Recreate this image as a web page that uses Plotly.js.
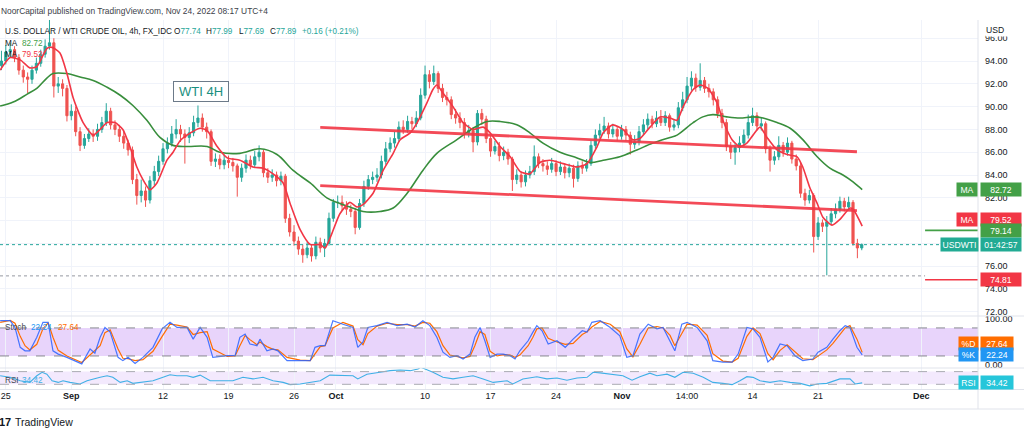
<!DOCTYPE html>
<html><head><meta charset="utf-8">
<script src="https://cdn.plot.ly/plotly-3.0.1.min.js"></script>
<style>html,body{margin:0;padding:0;background:#fff;overflow:hidden}#chart{width:1024px;height:435px}</style>
</head><body><div id="chart"></div>
<script>
// ---------------- DATA ----------------
// candles: index -1 .. 196, three candles per trading day
const firstCandleIndex = -1;
const firstOpen = 93.6;
const closes = [94.0,94.8,95.0,94.3,93.2,92.6,92.4,93.2,93.8,94.6,
95.3,95.6,91.8,92.0,91.6,89.2,89.6,87.8,86.6,87.2,
87.6,87.4,88.0,88.6,89.6,88.4,88.0,87.4,86.8,86.2,
83.6,82.2,82.6,81.8,83.5,84.3,85.2,86.3,86.8,87.6,
88.0,87.6,87.3,87.7,88.6,89.0,88.2,87.8,85.2,85.4,
84.9,85.3,85.1,84.8,83.8,84.6,85.3,84.9,85.6,86.0,
84.2,83.8,84.0,83.5,83.9,80.2,79.0,78.2,77.5,77.0,
77.6,76.9,78.1,77.6,78.0,80.2,81.6,81.6,81.3,81.0,
80.8,79.4,81.5,83.0,83.6,83.8,84.0,85.2,86.3,86.8,
87.2,88.2,88.0,88.7,88.5,89.0,91.0,92.8,92.2,92.9,
91.6,90.8,90.6,89.3,89.0,88.6,87.7,87.9,86.9,89.4,
88.9,87.2,86.1,86.5,85.7,86.0,85.4,83.6,84.0,83.4,
84.0,84.3,85.6,85.0,84.8,84.5,85.0,84.3,84.7,84.2,
84.6,83.7,84.8,84.6,85.0,86.6,87.5,87.9,88.3,87.6,
88.0,87.4,88.0,87.5,86.7,86.9,87.8,88.4,88.9,88.5,
89.0,88.6,89.2,88.2,88.4,89.9,90.6,91.8,92.5,91.7,
92.3,91.6,91.3,90.6,89.4,88.6,86.5,86.0,86.4,86.8,
87.5,88.6,89.2,88.3,88.5,86.3,85.3,85.6,86.6,86.0,
86.8,85.4,84.8,82.4,81.8,82.2,78.6,79.8,79.5,79.9,
80.6,81.0,81.7,81.2,81.6,78.0,77.6,77.89];
const highs = [94.9,95.4,95.6,95.3,94.6,93.6,93.0,93.6,94.3,95.0,
95.9,97.6,96.0,92.6,92.4,91.9,90.2,90.0,88.2,87.6,
88.1,88.0,88.5,89.1,90.3,89.9,88.8,88.4,87.9,87.1,
86.5,84.1,83.6,83.0,83.9,84.8,85.7,86.8,87.3,88.3,
88.9,88.4,88.0,88.2,89.2,90.1,89.4,88.6,88.0,85.9,
85.8,85.8,85.7,85.5,85.0,85.0,85.8,85.7,86.1,86.6,
86.2,84.6,84.5,84.3,84.3,84.1,80.6,79.6,78.6,77.9,
78.1,77.9,78.6,78.5,78.4,80.7,81.9,82.2,82.2,81.7,
81.4,81.1,81.9,83.5,84.0,84.3,84.6,85.7,86.9,87.3,
87.8,88.7,88.8,89.2,89.1,89.6,91.6,93.6,93.2,93.6,
93.1,92.0,91.3,90.9,89.8,89.5,89.0,88.4,88.2,89.7,
89.8,89.2,87.5,87.0,86.9,86.5,86.3,85.6,84.5,84.3,
84.4,84.8,86.6,85.9,85.4,85.2,85.5,85.3,85.2,85.0,
85.0,84.9,85.2,85.2,85.4,87.0,88.0,88.5,89.1,88.6,
88.5,88.3,88.4,88.3,87.8,87.5,88.3,88.9,89.4,89.2,
89.6,89.7,89.6,89.4,88.9,90.4,91.3,92.6,93.1,92.9,
93.8,92.6,92.0,91.6,90.9,89.8,88.9,86.9,86.8,87.4,
88.0,89.3,89.9,89.5,89.0,88.7,86.6,86.1,87.4,86.9,
87.3,87.0,85.8,85.1,82.8,82.7,82.4,80.3,80.1,80.4,
81.1,81.5,82.1,82.0,82.1,81.8,78.4,77.99];
const lows = [93.2,93.7,94.3,93.9,92.8,92.1,91.2,92.0,92.9,93.5,
94.3,95.0,90.8,91.2,90.9,88.7,88.8,87.4,86.1,86.3,
86.9,86.9,87.0,87.7,88.3,88.0,87.5,86.9,86.3,85.7,
83.2,81.4,81.6,81.2,81.5,83.1,83.9,84.9,85.9,86.5,
87.2,86.9,85.0,86.8,87.4,88.2,87.8,87.2,84.8,84.7,
84.5,84.5,84.6,84.3,82.1,83.4,84.2,84.5,84.6,85.2,
83.8,83.3,83.4,83.0,83.1,79.8,78.6,77.8,77.0,76.3,
76.7,76.4,76.6,77.2,76.8,77.8,79.9,81.1,80.9,80.5,
80.3,78.8,79.2,81.2,82.7,83.2,83.4,83.7,84.9,86.0,
86.4,86.9,87.6,87.7,88.0,88.2,88.8,90.7,91.6,91.9,
91.2,90.4,90.1,88.9,88.5,88.1,87.2,87.3,86.0,86.6,
88.4,86.8,85.6,85.8,85.2,85.3,84.9,82.6,83.2,82.9,
83.0,83.7,84.0,84.6,84.3,84.0,84.2,83.9,84.0,83.7,
83.8,82.9,83.4,84.1,84.3,84.8,86.3,87.2,87.6,87.2,
87.3,87.0,87.1,87.0,85.8,86.3,86.6,87.5,88.0,88.1,
88.2,88.3,88.3,87.8,87.9,88.1,89.6,90.3,91.4,91.3,
91.4,91.2,90.8,90.1,89.0,88.1,86.1,85.4,84.9,86.0,
86.5,87.2,88.3,87.9,87.9,85.9,84.3,84.9,85.3,85.6,
85.7,85.0,84.4,82.0,81.3,81.5,77.2,78.3,79.0,75.2,
79.6,80.2,80.7,80.8,80.9,77.8,76.7,77.4];

// moving averages (x = candle index)
const maFastT = [-1.3,1.0,3.3,5.5,7.1,9.4,10.6,12.4,14.0,15.4,17.7,20.0,21.6,23.2,25.0,26.8,28.4,30.0,31.4,33.0,34.6,36.9,38.3,39.9,41.5,44.5,46.1,48.4,50.7,53.6,56.6,58.9,61.2,63.5,65.1,67.4,69.7,72.0,73.1,74.7,76.5,78.8,80.4,81.8,84.1,86.4,88.7,90.3,92.6,94.2,96.4,97.8,98.7,100.1,102.4,104.7,107.0,109.3,110.9,113.2,115.5,117.8,120.0,122.3,124.6,127.6,130.8,133.1,135.4,136.8,139.0,141.3,143.6,145.2,147.5,149.8,152.1,153.7,155.1,157.4,159.0,160.8,162.9,164.2,166.3,168.1,169.7,171.1,172.7,174.3,176.6,178.9,181.2,182.5,184.1,185.8,187.1,189.2,191.0,193.3,194.0,196.1];
const maFastV = [93.2,94.3,94.1,93.4,93.5,95.1,95.2,94.7,92.9,90.8,88.6,87.5,88.0,88.6,88.6,88.0,86.5,84.7,83.6,82.7,83.3,85.3,86.0,87.0,87.5,88.1,87.9,86.5,85.5,85.3,84.7,84.6,84.1,83.3,81.5,79.2,77.9,77.9,77.6,78.9,80.6,81.6,81.2,81.4,82.4,84.4,85.9,87.1,87.7,88.6,90.3,91.5,91.9,91.2,90.0,88.6,88.0,88.2,87.7,86.5,85.6,84.3,84.1,85.1,85.3,85.0,84.7,85.0,86.5,87.7,88.4,88.0,87.1,87.2,88.2,89.1,89.0,88.8,90.0,91.5,91.9,91.6,90.3,88.8,87.1,86.5,86.8,87.5,88.2,87.3,86.2,85.8,85.6,84.7,82.9,81.5,80.3,79.6,80.1,81.1,81.0,79.52];
const maSlowT = [-1.3,1.7,4.9,7.1,9.4,10.8,14.0,17.0,20.0,23.2,26.2,29.1,32.3,35.3,38.3,41.5,46.1,49.0,53.6,58.2,62.1,65.8,69.7,73.5,76.5,78.8,81.8,85.7,88.7,91.9,95.5,98.7,103.3,107.0,110.2,113.2,117.0,120.0,123.0,126.9,130.8,133.8,136.8,140.6,144.5,148.2,152.1,153.7,157.4,159.6,161.9,165.1,168.1,171.1,173.4,176.6,179.6,182.5,185.8,188.7,191.7,194.0,196.1];
const maSlowV = [90.05,90.4,91.1,91.6,92.5,92.9,92.9,92.6,92.3,91.7,91.0,90.1,88.8,87.3,86.6,86.5,86.5,86.0,85.9,86.3,85.8,84.4,83.3,82.0,81.5,81.2,80.8,80.8,81.1,82.4,84.4,85.9,87.1,88.1,88.7,88.7,88.4,87.7,86.8,86.0,85.5,85.1,85.3,85.6,86.2,86.8,87.3,87.5,88.6,89.1,89.3,89.1,89.0,89.1,89.0,88.6,88.1,87.1,85.6,84.6,84.0,83.4,82.72];

// stochastic
const stochT = [-1.3,1.0,2.1,3.3,4.4,5.5,7.1,8.5,9.7,10.8,12.0,14.0,17.4,19.3,20.4,21.6,22.7,23.9,25.7,26.8,28.0,29.6,31.4,33.7,35.8,37.6,39.2,41.5,42.9,44.5,46.1,47.4,50.7,52.5,53.6,54.8,55.9,57.5,58.2,59.8,61.2,62.3,64.4,67.4,69.7,70.8,72.0,73.1,74.9,77.2,79.5,80.6,81.8,82.9,85.0,87.3,89.6,91.9,93.7,95.5,97.1,98.7,100.1,101.7,103.3,104.7,106.3,107.4,108.6,109.7,110.9,112.5,113.9,115.5,116.6,117.7,119.6,120.7,121.6,122.8,124.2,126.2,128.1,129.9,132.0,133.1,134.2,136.1,138.4,140.6,142.2,143.6,145.2,147.1,149.1,150.5,152.1,153.2,154.8,156.0,158.3,160.6,161.9,164.2,166.3,167.7,169.7,171.1,172.7,174.5,175.7,177.3,178.9,180.7,182.5,184.8,186.0,188.0,189.4,191.0,192.2,193.3,194.9,196.1];
const stochK = [95.5,95.5,81,38.5,31,31,60,92,92,31,24,17,3,35,26,60,81,71,17,10,17,4,17,38.5,78,92,81,81,56,81,60,17,20.6,20.6,60,67,45.6,42,56,31,35,31,10,10,10,38.5,42,42,95.5,88,81,38.5,50,81,85,92,85,88,82,95.5,85,60,28,17,20.6,13.5,24,60,81,52.5,17,24,24,20.6,13.5,31,52.5,71,85,74,45.6,52.5,38.5,56,74,71,92,95.5,81,63,17,20.6,67,88,78,81,52.5,31,88,92,81,52.5,10,7,7,24,81,78,60,7,17,45.6,42,20.6,10,13.5,28,38.5,56,74,85,81,38.5,22.24];
const stochD = [92,96,90,62,42,33,45,78,91,60,32,20,6,22,30,42,70,76,35,15,14,10,12,30,62,88,86,82,66,70,72,35,19,20,42,64,55,44,50,40,34,33,17,11,10,25,40,42,80,92,84,55,44,68,84,90,87,87,84,92,90,72,42,22,19,16,19,42,72,66,30,20,23,22,17,22,42,60,78,80,58,50,45,47,66,72,82,94,88,72,35,18,45,80,83,80,64,42,68,88,86,64,25,9,7,15,62,80,68,25,12,32,44,30,14,12,20,33,47,66,80,85,56,27.64];

// RSI
const rsiT = [-1.3,1.0,3.3,5.5,7.1,8.3,9.4,10.6,12.0,13.1,14.7,17.0,18.6,20.0,21.6,23.2,24.5,26.2,27.8,29.1,31.4,33.7,36.0,37.6,39.2,41.5,42.9,44.5,46.8,49.0,52.0,54.3,56.6,58.9,61.2,63.5,65.1,67.4,69.7,72.0,74.2,77.2,79.5,80.6,82.7,85.7,88.0,90.3,92.6,94.4,95.0,96.0,97.8,100.1,102.4,104.7,107.0,109.3,111.6,114.8,116.1,118.4,121.6,123.9,126.2,128.5,130.8,133.1,134.5,136.1,139.0,141.3,143.4,145.2,147.5,149.1,151.4,153.2,155.1,157.4,159.7,161.9,164.2,166.3,168.1,169.7,171.1,172.7,175.0,177.3,179.6,181.9,184.1,185.8,188.0,191.0,193.3,194.5,196.1];
const rsiV = [57,52,41,36,57,68,62,41,36,41,36,31,41,47,52,57,52,36,41,33,36,41,52,60,57,57,52,59,41,41,41,52,47,52,41,36,29,31,36,41,59,57,57,47,62,68,73,75,73,78,84,78,68,52,47,52,57,47,36,41,31,47,54,47,50,43,50,52,68,66,62,57,43,54,65,57,62,52,68,65,52,36,33,29,41,54,52,41,36,41,36,33,25,31,33,47,47,31,34.42];

// drawings
const upperTrendT = [72.0, 194.9], upperTrendV = [88.18, 86.04];
const lowerTrendT = [72.0, 194.9], lowerTrendV = [83.06, 80.87];
const rayStartT = 210.5;
const greenLevel = 79.14, redLevel = 74.81;
const lastPrice = 77.89, lowLevel = 75.15;
const legendOHLC = ['77.74','77.99','77.69','77.89'];
const legendChange = '+0.16 (+0.21%)';
const maSlowLast = '82.72', maFastLast = '79.52';
const stochKLast = '22.24', stochDLast = '27.64', rsiLast = '34.42';
const countdown = '01:42:57';

// axes (80.00 and 78.00 are covered by badges in the picture)
const priceTicks = [72,74,76,78,80,82,84,86,88,90,92,94,96];
const priceTickText = ['72.00','74.00','76.00','','','82.00','84.00','86.00','88.00','90.00','92.00','94.00','96.00'];
const stochTicks = [0, 100];
const dateTickPos = [0, 15, 36, 51, 66, 75.6, 96, 111, 126, 141.1, 156, 171, 186, 209.6];
const dateTickText = ['25','<b>Sep</b>','12','19','26','<b>Oct</b>','10','17','24','<b>Nov</b>','14:00','14','21','<b>Dec</b>'];
const xRange = [-1.33, 222.62];

// ---------------- BUILD ----------------
const idx = closes.map((_, i) => firstCandleIndex + i);
const opens = closes.map((c, i) => i === 0 ? firstOpen : closes[i - 1]);

const W = 978, YB = 389, PH = 369;
const px = x => x / W;
const py = y => (YB - y) / PH;
const FONT = 'Liberation Sans, Arial, sans-serif';
const DARK = '#131722';
const GREEN = '#43a047', RED = '#f23645', TEAL = '#26a69a';
const KBLUE = '#2962ff', DORANGE = '#ff6d00', RSICOL = '#3fb0e6';

const traces = [
  {type:'candlestick', x: idx, open: opens, high: highs, low: lows, close: closes,
   xaxis:'x', yaxis:'y',
   increasing:{line:{color:TEAL,width:1}, fillcolor:TEAL},
   decreasing:{line:{color:'#ef5350',width:1}, fillcolor:'#ef5350'},
   whiskerwidth:0, hoverinfo:'skip', showlegend:false},
  {type:'scatter', mode:'lines', x:[xRange[0], xRange[1]], y:[lastPrice,lastPrice], yaxis:'y',
   line:{color:TEAL,width:1,dash:'dot'}, hoverinfo:'skip'},
  {type:'scatter', mode:'lines', x:[xRange[0], rayStartT], y:[lowLevel,lowLevel], yaxis:'y',
   line:{color:'#9598a1',width:1,dash:'dot'}, hoverinfo:'skip'},
  {type:'scatter', mode:'lines', x:maSlowT, y:maSlowV, yaxis:'y',
   line:{color:'#388e3c',width:1.6,shape:'spline',smoothing:1}, hoverinfo:'skip'},
  {type:'scatter', mode:'lines', x:maFastT, y:maFastV, yaxis:'y',
   line:{color:RED,width:1.6,shape:'spline',smoothing:0.6}, hoverinfo:'skip'},
  {type:'scatter', mode:'lines', x:upperTrendT, y:upperTrendV, yaxis:'y',
   line:{color:'#f23645',width:2.8}, opacity:0.9, hoverinfo:'skip'},
  {type:'scatter', mode:'lines', x:lowerTrendT, y:lowerTrendV, yaxis:'y',
   line:{color:'#f23645',width:2.8}, opacity:0.9, hoverinfo:'skip'},
  {type:'scatter', mode:'lines', x:[rayStartT, xRange[1]], y:[greenLevel,greenLevel], yaxis:'y',
   line:{color:GREEN,width:1.6}, hoverinfo:'skip'},
  {type:'scatter', mode:'lines', x:[rayStartT, xRange[1]], y:[redLevel,redLevel], yaxis:'y',
   line:{color:RED,width:1.6}, hoverinfo:'skip'},
  {type:'scatter', mode:'lines', x:stochT, y:stochD, yaxis:'y2',
   line:{color:DORANGE,width:1.2}, hoverinfo:'skip'},
  {type:'scatter', mode:'lines', x:stochT, y:stochK, yaxis:'y2',
   line:{color:KBLUE,width:1.2}, opacity:0.85, hoverinfo:'skip'},
  {type:'scatter', mode:'lines', x:rsiT, y:rsiV, yaxis:'y3',
   line:{color:RSICOL,width:1.1}, hoverinfo:'skip'}
];

function txt(text, x, y, size, color, extra) {
  return Object.assign({text, x: px(x), y: py(y), xref:'paper', yref:'paper',
    xanchor:'left', yanchor:'middle', showarrow:false,
    font:{family:FONT, size:size, color:color}}, extra || {});
}
function badge(text, x0, w, yv, yref, bg, shift) {
  return {text, x: px(x0), xref:'paper', xanchor:'left', y: yv, yref: yref, yanchor:'middle',
    yshift: shift || 0, showarrow:false, width:w, height:13, borderpad:0, bgcolor:bg,
    align:'center', font:{family:FONT, size:8.6, color:'#ffffff'}};
}

const annotations = [
  txt('NoorCapital published on TradingView.com, Nov 24, 2022 08:17 UTC+4', -1, 11.5, 8.4, '#3b3e48'),
  txt('U.S. DOLLAR / WTI CRUDE OIL, 4h, FX_IDC', 3, 31, 8.2, DARK),
  txt('O<span style="color:'+TEAL+'">'+legendOHLC[0]+'</span>', 172, 31, 8.2, DARK),
  txt('H<span style="color:'+TEAL+'">'+legendOHLC[1]+'</span>', 204, 31, 8.2, DARK),
  txt('L<span style="color:'+TEAL+'">'+legendOHLC[2]+'</span>', 237, 31, 8.2, DARK),
  txt('C<span style="color:'+TEAL+'">'+legendOHLC[3]+'</span>', 268, 31, 8.2, DARK),
  txt(legendChange, 300, 31, 8.2, TEAL),
  txt('MA', 3, 43.3, 8.2, DARK),
  txt(maSlowLast, 20, 43.3, 8.2, GREEN),
  txt('MA', 3, 55, 8.2, DARK),
  txt(maFastLast, 20, 55, 8.2, RED),
  txt('Stoch', 3, 327.5, 8.2, '#434651'),
  txt(stochKLast, 29, 327.5, 8.2, '#2196f3'),
  txt(stochDLast, 56, 327.5, 8.2, DORANGE),
  txt('RSI', 3, 380.8, 8.2, '#434651'),
  txt(rsiLast, 20, 380.8, 8.2, RSICOL),
  {text:'WTI 4H', x: px(201), y: py(91), xref:'paper', yref:'paper', xanchor:'center', yanchor:'middle',
   showarrow:false, width:52, height:17, borderpad:1, bordercolor:'#6c7a89', borderwidth:1, bgcolor:'#ffffff',
   font:{family:FONT, size:13, color:'#1a8f80'}},
  {text:'USD', x: px(985), y: py(29), xref:'paper', yref:'paper', xanchor:'left', yanchor:'middle',
   showarrow:false, bgcolor:'#ffffff', width:36, height:13, align:'left', borderpad:0,
   font:{family:FONT, size:8.6, color:DARK}},
  badge('MA', 956, 20, Number(maSlowLast), 'y', GREEN, 0),
  badge(maSlowLast, 980, 40, Number(maSlowLast), 'y', GREEN, 0),
  badge('MA', 956, 20, Number(maFastLast), 'y', RED, 7),
  badge(maFastLast, 980, 40, Number(maFastLast), 'y', RED, 7),
  badge(greenLevel.toFixed(2), 980, 40, greenLevel, 'y', GREEN, 0),
  badge('USDWTI', 940, 37, lastPrice, 'y', '#22ab94', 0),
  badge(countdown, 980, 40, lastPrice, 'y', '#22ab94', 0),
  badge(redLevel.toFixed(2), 980, 40, redLevel, 'y', RED, 0),
  badge('%D', 958, 19, Number(stochDLast), 'y2', DORANGE, 9),
  badge(stochDLast, 980, 32, Number(stochDLast), 'y2', DORANGE, 9),
  badge('%K', 958, 19, Number(stochKLast), 'y2', '#2196f3', 0),
  badge(stochKLast, 980, 32, Number(stochKLast), 'y2', '#2196f3', 0),
  badge('RSI', 958, 19, Number(rsiLast), 'y3', '#26c6da', 0),
  badge(rsiLast, 980, 32, Number(rsiLast), 'y3', '#26c6da', 0),
  txt('<b>17</b>', -3, 422.5, 11, DARK),
  txt('TradingView', 13, 422.5, 10.5, DARK)
];

const GRID = '#f0f3fa', SEP = '#e0e3eb';
const shapes = [
  {type:'rect', xref:'paper', x0:0, x1:1, yref:'y2', y0:20, y1:80, fillcolor:'#e8d4fb', line:{width:0}, layer:'below'},
  {type:'rect', xref:'paper', x0:0, x1:1, yref:'y3', y0:30, y1:70, fillcolor:'#f3e9fd', line:{width:0}, layer:'below'},
  {type:'line', xref:'paper', x0:0, x1:1, yref:'y2', y0:80, y1:80, line:{color:'#86888f',width:1,dash:'dash'}},
  {type:'line', xref:'paper', x0:0, x1:1, yref:'y2', y0:20, y1:20, line:{color:'#86888f',width:1,dash:'dash'}},
  {type:'line', xref:'paper', x0:0, x1:1, yref:'y3', y0:70, y1:70, line:{color:'#a9abb2',width:1,dash:'dash'}},
  {type:'line', xref:'paper', x0:0, x1:1, yref:'y3', y0:30, y1:30, line:{color:'#a9abb2',width:1,dash:'dash'}},
  {type:'line', xref:'paper', x0:0, x1:1.05, yref:'paper', y0:py(316), y1:py(316), line:{color:SEP,width:1}},
  {type:'line', xref:'paper', x0:0, x1:1.05, yref:'paper', y0:py(368), y1:py(368), line:{color:SEP,width:1}},
  {type:'line', xref:'paper', x0:0, x1:1.05, yref:'paper', y0:py(389.5), y1:py(389.5), line:{color:SEP,width:1}},
  {type:'line', xref:'paper', x0:0, x1:1.05, yref:'paper', y0:py(409), y1:py(409), line:{color:SEP,width:1}},
  {type:'line', xref:'paper', x0:1, x1:1, yref:'paper', y0:py(409), y1:py(20), line:{color:SEP,width:1}}
];

const layout = {
  width:1024, height:435, paper_bgcolor:'#ffffff', plot_bgcolor:'#ffffff',
  margin:{l:0, r:46, t:20, b:46}, showlegend:false, hovermode:false, dragmode:false,
  font:{family:FONT, size:9, color:DARK},
  xaxis:{type:'linear', range:xRange, anchor:'y3', rangeslider:{visible:false},
    tickmode:'array', tickvals:dateTickPos, ticktext:dateTickText,
    showgrid:true, gridcolor:GRID, gridwidth:1, zeroline:false, showline:false, ticks:'',
    tickfont:{family:FONT, size:9, color:DARK}, fixedrange:true},
  yaxis:{domain:[py(316), 1], range:[71.63, 97.6], side:'right', anchor:'x',
    tickmode:'array', tickvals:priceTicks, ticktext:priceTickText,
    showgrid:true, gridcolor:GRID, zeroline:false, showline:false, ticks:'',
    ticklabelstandoff:6, tickfont:{family:FONT, size:9, color:DARK}, fixedrange:true},
  yaxis2:{domain:[py(368), py(316)], range:[-5.78, 105.57], side:'right', anchor:'x',
    tickmode:'array', tickvals:stochTicks, ticktext:stochTicks.map(v => v.toFixed(2)),
    showgrid:false, zeroline:false, showline:false, ticks:'',
    ticklabelstandoff:6, tickfont:{family:FONT, size:9, color:DARK}, fixedrange:true},
  yaxis3:{domain:[0, py(368)], range:[15.17, 81.42], side:'right', anchor:'x',
    showticklabels:false, showgrid:false, zeroline:false, showline:false, ticks:'', fixedrange:true},
  annotations, shapes
};

Plotly.newPlot('chart', traces, layout, {staticPlot:true, displayModeBar:false});
</script>
</body></html>
